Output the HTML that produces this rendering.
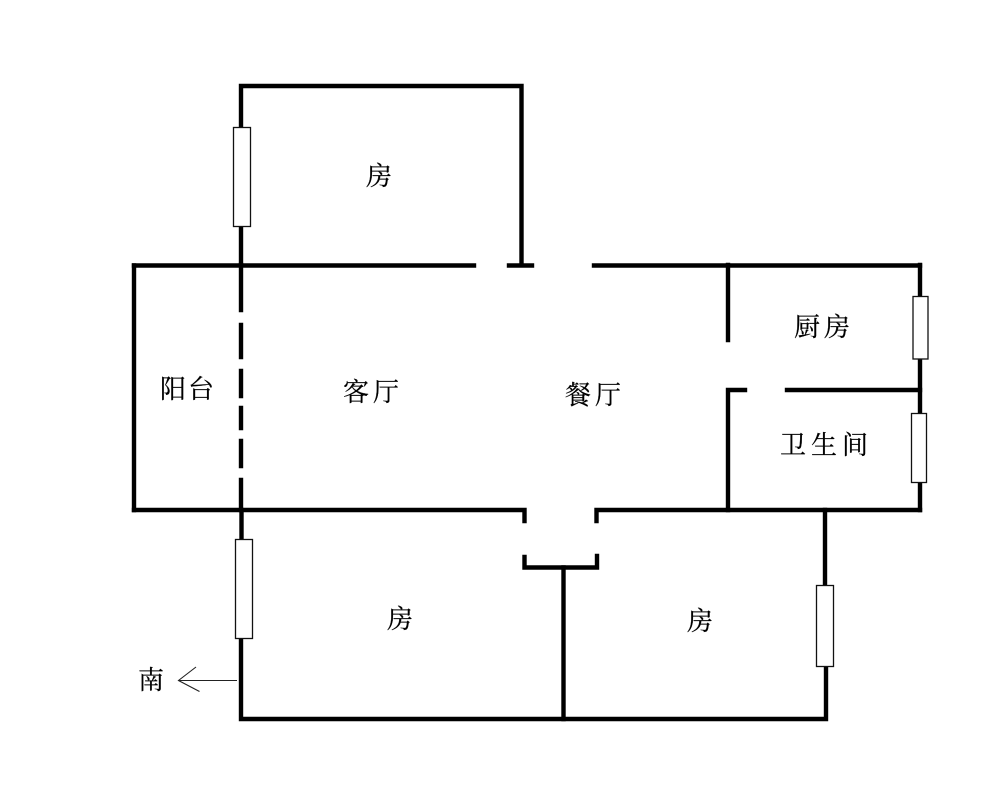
<!DOCTYPE html>
<html><head><meta charset="utf-8"><style>
html,body{margin:0;padding:0;background:#fff}
svg{display:block}
text{font-family:"Liberation Serif","Noto Serif CJK SC",serif;font-size:26px;fill:#000;stroke:#000;stroke-width:.2px;text-anchor:middle}
</style></head><body>
<svg width="1000" height="811" viewBox="0 0 1000 811" xmlns="http://www.w3.org/2000/svg">
<rect width="1000" height="811" fill="#fff"/>
<g stroke="#000" stroke-width="4.400" fill="none" stroke-linecap="square">
<path d="M241 128V86H521.500V265"/>
<path d="M241 227V265"/>
<path d="M134 265.500H474M509 265.500H532M594 265.500H920"/>
<path d="M134 265.500V510"/>
<path d="M241 265V310M241 325V357M241 371V396M241 408V428M241 441V466M241 480V510"/>
<path d="M134 510H524.500V521"/>
<path d="M596.500 521V510H920"/>
<path d="M241.500 510V539"/>
<path d="M241 639V719H826V666"/>
<path d="M825 510V585"/>
<path d="M524.500 557V567.500H597V556"/>
<path d="M563.500 567.500V719"/>
<path d="M728 265V340"/>
<path d="M728 510V390H745"/>
<path d="M787 390H920"/>
<path d="M920 265V297M920 359V413M920 482V510"/>
</g>
<g stroke="#111" stroke-width="1.300" fill="#fff">
<rect x="233.500" y="127.500" width="17" height="99"/>
<rect x="235.500" y="539.500" width="17" height="99"/>
<rect x="913" y="296.500" width="15" height="62.500"/>
<rect x="911.500" y="413.500" width="15" height="69"/>
<rect x="816.500" y="585.500" width="17" height="81"/>
</g>
<path d="M237 680.500H179M196 667L178.500 680.500L199.500 691.500" stroke="#222" stroke-width="1.100" fill="none"/>
<text x="379" y="185">房</text>
<text x="187" y="398" textLength="54" lengthAdjust="spacing">阳台</text>
<text x="371" y="401" textLength="56" lengthAdjust="spacing">客厅</text>
<text x="593" y="404" textLength="56" lengthAdjust="spacing">餐厅</text>
<text x="822" y="336" textLength="56" lengthAdjust="spacing">厨房</text>
<text x="824" y="454" textLength="88" lengthAdjust="spacing">卫生间</text>
<text x="400" y="628">房</text>
<text x="700" y="630">房</text>
<text x="151" y="689">南</text>
</svg>
</body></html>
